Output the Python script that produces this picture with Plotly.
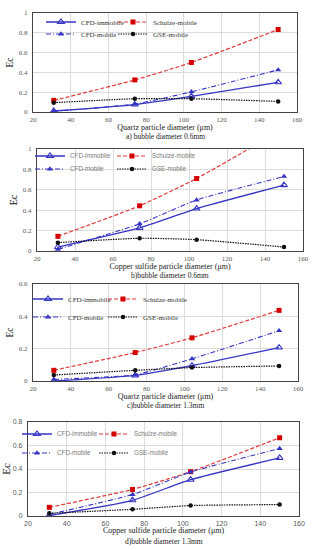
import plotly.graph_objects as go

# ---------------- data ----------------
diam = [31, 74, 104, 150]

a_cfd_immobile = [0.010, 0.075, 0.157, 0.300]
a_schulze      = [0.117, 0.324, 0.500, 0.833]
a_cfd_mobile   = [0.007, 0.080, 0.204, 0.425]
a_gse          = [0.094, 0.134, 0.134, 0.107]

b_cfd_immobile = [0.039, 0.226, 0.416, 0.646]
b_schulze      = [0.144, 0.443, 0.711, 1.200]
b_cfd_mobile   = [0.016, 0.266, 0.500, 0.731]
b_gse          = [0.082, 0.125, 0.111, 0.039]

c_cfd_immobile = [0.000, 0.035, 0.095, 0.207]
c_schulze      = [0.066, 0.176, 0.267, 0.437]
c_cfd_mobile   = [0.010, 0.039, 0.137, 0.311]
c_gse          = [0.037, 0.066, 0.083, 0.093]

d_cfd_immobile = [0.003, 0.134, 0.309, 0.494]
d_schulze      = [0.074, 0.226, 0.377, 0.666]
d_cfd_mobile   = [0.014, 0.183, 0.374, 0.574]
d_gse          = [0.023, 0.057, 0.089, 0.097]

series_names = ["CFD-immobile", "Schulze-mobile", "CFD-mobile", "GSE-mobile"]
x_titles = ["Quartz particle diameter (\u03bcm)",
            "Copper sulfide particle diameter (\u03bcm)",
            "Quartz particle diameter (\u03bcm)",
            "Copper sulfide particle diameter (\u03bcm)"]
sub_titles = ["a) bubble diameter 0.6mm", "b)bubble diameter 0.6mm",
              "c)bubble diameter 1.3mm", "d)bubble diameter 1.3mm"]
y_ranges = [[0, 1], [0, 1], [0, 0.6], [0, 0.8]]
y_dticks = [0.2, 0.2, 0.2, 0.2]
panels = [
    [a_cfd_immobile, a_schulze, a_cfd_mobile, a_gse],
    [b_cfd_immobile, b_schulze, b_cfd_mobile, b_gse],
    [c_cfd_immobile, c_schulze, c_cfd_mobile, c_gse],
    [d_cfd_immobile, d_schulze, d_cfd_mobile, d_gse],
]

# ---------------- layout geometry (pixels) ----------------
W, H = 315, 550
# plot area: left, right, top, bottom
boxes = [(33, 297, 13, 112), (37, 303, 149, 251), (33, 298, 284, 381), (28, 299, 422, 516)]
sub_y = [136, 275.5, 405, 541]
# legend rows (y) and text-start columns (x)
leg_rows = [(22, 34), (156, 169), (299, 317), (434, 453)]
leg_cols = [(79, 151), (68, 150), (66, 141), (55, 132)]

serif = "Liberation Serif"
sans = "Liberation Sans"
leg_fonts = [serif, sans, serif, sans]
leg_sizes = [7, 6.3, 7, 6.3]
tick_fonts = [serif, serif, serif, sans]
xt_size = [8, 8, 8, 8]
xt_standoff = [1, 0, 1, 1]
ec_size = [9.5, 10.5, 9.5, 11]
ec_standoff = [3, 3, 3, 4]

BLUE = "#3535c4"
RED = "#e23a3a"
RED_M = "#d40000"
BLACK = "#111111"

styles = [
    dict(line=dict(color=BLUE, width=1.3, dash="solid"),
         marker=dict(symbol="triangle-up-open", size=6, color=BLUE, line=dict(width=1.1, color=BLUE))),
    dict(line=dict(color=RED, width=1.2, dash="4px,2px"),
         marker=dict(symbol="square", size=5, color=RED_M)),
    dict(line=dict(color=BLUE, width=1.1, dash="5px,2px,1px,2px"),
         marker=dict(symbol="triangle-up", size=5.5, color=BLUE)),
    dict(line=dict(color=BLACK, width=1.2, dash="1.5px,1px"),
         marker=dict(symbol="circle", size=4.5, color=BLACK)),
]

fig = go.Figure()
layout = dict(width=W, height=H, margin=dict(l=0, r=0, t=0, b=0),
              paper_bgcolor="white", plot_bgcolor="white", annotations=[])

leg_idx = 0
for p in range(4):
    L, R, T, B = boxes[p]
    xa = "xaxis" if p == 0 else f"xaxis{p+1}"
    ya = "yaxis" if p == 0 else f"yaxis{p+1}"
    xref = "x" if p == 0 else f"x{p+1}"
    yref = "y" if p == 0 else f"y{p+1}"
    tickfont = dict(family=tick_fonts[p], size=7, color="#595959")
    layout[xa] = dict(domain=[L / W, R / W], anchor=yref, range=[20, 160], dtick=20,
                      showgrid=True, gridcolor="#dcdcdc", gridwidth=0.8, zeroline=False,
                      showline=True, linecolor="#444444", linewidth=1.2, mirror=True,
                      ticks="", tickfont=tickfont, automargin=False,
                      title=dict(text=x_titles[p], standoff=xt_standoff[p],
                                 font=dict(family=serif, size=xt_size[p], color="#222222")))
    layout[ya] = dict(domain=[1 - B / H, 1 - T / H], anchor=xref, range=y_ranges[p],
                      dtick=y_dticks[p], showgrid=True, gridcolor="#dcdcdc", gridwidth=0.8,
                      zeroline=False, showline=True, linecolor="#444444", linewidth=1.2,
                      mirror=True, ticks="", tickfont=tickfont, automargin=False,
                      ticklabelstandoff=3,
                      title=dict(text="Ec", standoff=ec_standoff[p],
                                 font=dict(family=serif, size=ec_size[p], color="#111111")))
    layout["annotations"].append(dict(text=sub_titles[p], xref="paper", yref="paper",
                                      x=(L + R) / 2 / W, y=1 - sub_y[p] / H, showarrow=False,
                                      xanchor="center", yanchor="middle",
                                      font=dict(family=serif, size=7.5, color="#222222")))
    for s in range(4):
        leg_idx += 1
        lname = "legend" if leg_idx == 1 else f"legend{leg_idx}"
        row = leg_rows[p][s // 2]
        col = leg_cols[p][s % 2]
        fig.add_trace(go.Scatter(x=diam, y=panels[p][s], name=series_names[s], mode="lines+markers",
                                 line_shape="spline", xaxis=xref, yaxis=yref, legend=lname,
                                 line=dict(smoothing=0.5, **styles[s]["line"]),
                                 marker=styles[s]["marker"], showlegend=True))
        layout[lname] = dict(x=(col - 38) / W, y=1 - row / H, xanchor="left", yanchor="middle",
                             bgcolor="rgba(0,0,0,0)", borderwidth=0,
                             font=dict(family=leg_fonts[p], size=leg_sizes[p],
                                       color="#333333" if leg_fonts[p] == serif else "#7a7a7a"),
                             itemwidth=30)

fig.update_layout(**layout)
fig.write_html("out.html", config={"displayModeBar": False},
               post_script="document.body.style.margin='0';document.body.style.padding='0';")
